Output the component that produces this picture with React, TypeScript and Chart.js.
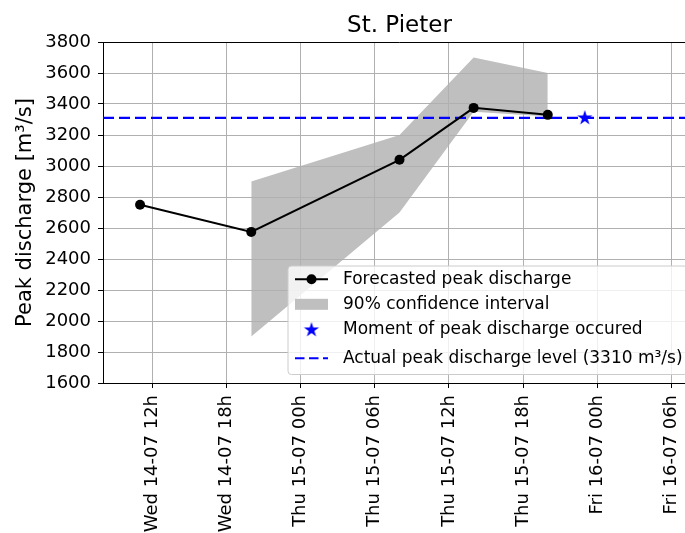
import React, { useEffect, useRef } from "react";
import { Chart, registerables } from "chart.js";

Chart.register(...registerables);

// ---- data ----
const chartTitle = "St. Pieter";
const yAxisLabel = "Peak discharge [m³/s]";
// x values are hours since Wed 14-07 00h
const xMinHour = 8;
const xMaxHour = 56;
const tickHours = [12, 18, 24, 30, 36, 42, 48, 54];
const tickLabels = [
  "Wed 14-07 12h",
  "Wed 14-07 18h",
  "Thu 15-07 00h",
  "Thu 15-07 06h",
  "Thu 15-07 12h",
  "Thu 15-07 18h",
  "Fri 16-07 00h",
  "Fri 16-07 06h",
];
const yMin = 1600;
const yMax = 3800;
const yStep = 200;

const forecastHours = [11, 20, 32, 38, 44];
const forecastValues = [2750, 2575, 3040, 3375, 3330];

const ciHours = [20, 32, 38, 44];
const ciUpper = [2900, 3200, 3700, 3600];
const ciLower = [1900, 2700, 3350, 3320];

const peakMomentHour = 47;
const actualPeak = 3310;

const legendLabels = [
  "Forecasted peak discharge",
  "90% confidence interval",
  "Moment of peak discharge occured",
  "Actual peak discharge level (3310 m³/s)",
];

const FONT = '"DejaVu Sans", "Liberation Sans", sans-serif';
const BAND = "#bfbfbf";

function makeStar(r: number, color: string): HTMLCanvasElement {
  const size = Math.ceil(r * 2 + 2);
  const c = document.createElement("canvas");
  c.width = size;
  c.height = size;
  const g = c.getContext("2d")!;
  const cx = size / 2;
  const cy = size / 2;
  const inner = r * 0.381966;
  g.beginPath();
  for (let i = 0; i < 10; i++) {
    const rr = i % 2 === 0 ? r : inner;
    const ang = -Math.PI / 2 + (i * Math.PI) / 5;
    const px = cx + rr * Math.cos(ang);
    const py = cy + rr * Math.sin(ang);
    if (i === 0) g.moveTo(px, py);
    else g.lineTo(px, py);
  }
  g.closePath();
  g.fillStyle = color;
  g.fill();
  return c;
}

export default function App() {
  const ref = useRef<HTMLCanvasElement | null>(null);

  useEffect(() => {
    if (!ref.current) return;
    const star = makeStar(7.9, "#0000ff");

    const decorPlugin = {
      id: "mplDecor",
      afterDraw(chart: any) {
        const ctx = chart.ctx as CanvasRenderingContext2D;
        const a = chart.chartArea;
        ctx.save();
        // top spine
        ctx.strokeStyle = "#000";
        ctx.lineWidth = 1;
        ctx.beginPath();
        ctx.moveTo(a.left, Math.round(a.top) + 0.5);
        ctx.lineTo(a.right, Math.round(a.top) + 0.5);
        ctx.stroke();

        // title
        ctx.fillStyle = "#000";
        ctx.font = `23px ${FONT}`;
        ctx.textAlign = "center";
        ctx.textBaseline = "alphabetic";
        ctx.fillText(chartTitle, (a.left + a.right) / 2, a.top - 9.7);

        // legend box
        const bw = 399.5;
        const bh = 108.5;
        const bx = a.right - 8.5 - bw;
        const by = a.bottom - 8.5 - bh;
        const rad = 3.4;
        ctx.beginPath();
        ctx.moveTo(bx + rad, by);
        ctx.lineTo(bx + bw - rad, by);
        ctx.arcTo(bx + bw, by, bx + bw, by + rad, rad);
        ctx.lineTo(bx + bw, by + bh - rad);
        ctx.arcTo(bx + bw, by + bh, bx + bw - rad, by + bh, rad);
        ctx.lineTo(bx + rad, by + bh);
        ctx.arcTo(bx, by + bh, bx, by + bh - rad, rad);
        ctx.lineTo(bx, by + rad);
        ctx.arcTo(bx, by, bx + rad, by, rad);
        ctx.closePath();
        ctx.fillStyle = "rgba(255,255,255,0.8)";
        ctx.fill();
        ctx.strokeStyle = "#cccccc";
        ctx.lineWidth = 1;
        ctx.stroke();

        const rows = [13.3, 38.3, 64, 92.3];
        const hx0 = bx + 7;
        const hx1 = bx + 40;
        const hc = (hx0 + hx1) / 2;

        // row 1: line + marker
        let y = by + rows[0];
        ctx.strokeStyle = "#000";
        ctx.lineWidth = 2;
        ctx.beginPath();
        ctx.moveTo(hx0, y);
        ctx.lineTo(hx1, y);
        ctx.stroke();
        ctx.fillStyle = "#000";
        ctx.beginPath();
        ctx.arc(hc, y, 5, 0, Math.PI * 2);
        ctx.fill();

        // row 2: band patch
        y = by + rows[1];
        ctx.fillStyle = BAND;
        ctx.fillRect(hx0, y - 5.5, hx1 - hx0, 11);

        // row 3: star
        y = by + rows[2];
        ctx.drawImage(star, hc - star.width / 2, y - star.height / 2);

        // row 4: dashed line
        y = by + rows[3];
        ctx.strokeStyle = "#0000ff";
        ctx.lineWidth = 2;
        ctx.setLineDash([9.5, 4.5]);
        ctx.beginPath();
        ctx.moveTo(hx0, y);
        ctx.lineTo(hx1, y);
        ctx.stroke();
        ctx.setLineDash([]);

        // texts
        ctx.fillStyle = "#000";
        ctx.font = `17px ${FONT}`;
        ctx.textAlign = "left";
        ctx.textBaseline = "middle";
        legendLabels.forEach((t, i) => {
          ctx.fillText(t, bx + 55, by + rows[i]);
        });
        ctx.restore();
      },
    };

    const chart = new Chart(ref.current, {
      type: "line",
      data: {
        datasets: [
          {
            label: legendLabels[2],
            data: [{ x: peakMomentHour, y: actualPeak }],
            showLine: false,
            pointStyle: star as any,
            pointRadius: 8,
            borderWidth: 0,
          },
          {
            label: legendLabels[0],
            data: forecastHours.map((h, i) => ({ x: h, y: forecastValues[i] })),
            borderColor: "#000",
            backgroundColor: "#000",
            borderWidth: 2,
            pointRadius: 5,
            pointBackgroundColor: "#000",
            pointBorderWidth: 0,
            tension: 0,
            fill: false,
          },
          {
            label: legendLabels[3],
            data: [
              { x: xMinHour, y: actualPeak },
              { x: xMaxHour, y: actualPeak },
            ],
            borderColor: "#0000ff",
            borderWidth: 2.2,
            borderDash: [11, 5],
            pointRadius: 0,
            fill: false,
          },
          {
            label: legendLabels[1],
            data: ciHours.map((h, i) => ({ x: h, y: ciUpper[i] })),
            borderWidth: 0,
            borderColor: "rgba(0,0,0,0)",
            backgroundColor: BAND,
            pointRadius: 0,
            fill: "+1",
            tension: 0,
          },
          {
            label: "lower",
            data: ciHours.map((h, i) => ({ x: h, y: ciLower[i] })),
            borderWidth: 0,
            borderColor: "rgba(0,0,0,0)",
            pointRadius: 0,
            fill: false,
            tension: 0,
          },
        ],
      },
      options: {
        responsive: false,
        animation: false,
        events: [],
        layout: { padding: { top: 34, right: 12, left: 0, bottom: 0 } },
        plugins: {
          legend: { display: false },
          title: { display: false },
          tooltip: { enabled: false },
          filler: { drawTime: "beforeDraw" },
        } as any,
        scales: {
          x: {
            type: "linear",
            min: xMinHour,
            max: xMaxHour,
            afterBuildTicks: (scale: any) => {
              scale.ticks = tickHours.map((v) => ({ value: v }));
            },
            afterFit: (scale: any) => {
              scale.height = 170;
            },
            ticks: {
              autoSkip: false,
              maxRotation: 90,
              minRotation: 90,
              padding: 7,
              color: "#000",
              font: { family: FONT, size: 18 },
              callback: (v: any) => {
                const idx = tickHours.indexOf(Number(v));
                return idx >= 0 ? tickLabels[idx] : "";
              },
            },
            grid: {
              color: "#b0b0b0",
              lineWidth: 1,
              tickColor: "#000",
              tickLength: 5,
              drawTicks: true,
            },
            border: { display: true, color: "#000", width: 1 },
          },
          y: {
            type: "linear",
            min: yMin,
            max: yMax,
            afterFit: (scale: any) => {
              scale.width = 95;
            },
            ticks: {
              stepSize: yStep,
              padding: 7,
              color: "#000",
              font: { family: FONT, size: 18 },
              callback: (v: any) => String(v),
            },
            grid: {
              color: "#b0b0b0",
              lineWidth: 1,
              tickColor: "#000",
              tickLength: 5,
              drawTicks: true,
            },
            border: { display: true, color: "#000", width: 1 },
            title: {
              display: true,
              text: yAxisLabel,
              color: "#000",
              font: { family: FONT, size: 21, lineHeight: 1.2 },
              padding: { top: 5, bottom: 0 },
            },
          },
        },
      },
      plugins: [decorPlugin],
    });

    return () => {
      chart.destroy();
    };
  }, []);

  return (
    <div
      style={{
        position: "fixed",
        left: 8,
        top: 8,
        width: 677,
        height: 525,
        overflow: "hidden",
        background: "#fff",
      }}
    >
      <canvas
        ref={ref}
        width={700}
        height={545}
        style={{ display: "block", width: 700, height: 545 }}
      />
    </div>
  );
}
